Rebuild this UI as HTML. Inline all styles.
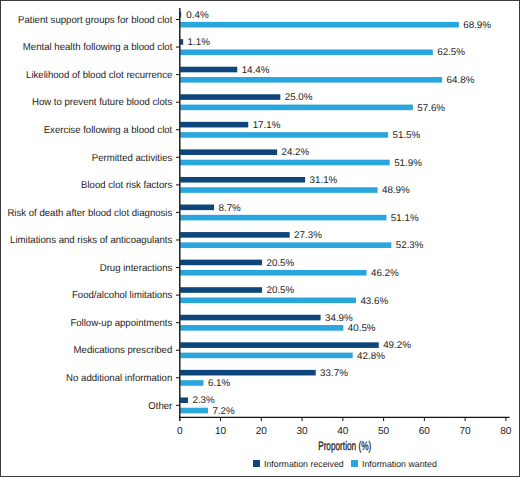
<!DOCTYPE html>
<html><head><meta charset="utf-8"><style>
html,body{margin:0;padding:0;background:#fff;}
svg{display:block;}
text{font-family:"Liberation Sans",sans-serif;fill:#222;text-rendering:geometricPrecision;}
.c{font-size:10px;text-anchor:end;}
.v{font-size:9.8px;}
.x{font-size:10.1px;text-anchor:middle;}
.t{font-size:12.4px;text-anchor:middle;stroke:#222;stroke-width:0.3px;}
.l{font-size:8.8px;}
</style></head><body>
<svg width="520" height="477" viewBox="0 0 520 477">
<rect x="0.5" y="0.5" width="519" height="476" fill="#fff" stroke="#3c3c3c" stroke-width="1"/>
<rect x="180.20" y="11.60" width="1.00" height="5.6" fill="#0e467c"/>
<rect x="180.20" y="21.90" width="278.65" height="5.6" fill="#2aa6de"/>
<text transform="translate(186.33 17.61) scale(1.0 1)" class="v">0.4%</text>
<text transform="translate(463.25 27.91) scale(1.0 1)" class="v">68.9%</text>
<text transform="translate(172.3 22.70) scale(0.96 1)" class="c">Patient support groups for blood clot</text>
<line x1="176" x2="180" y1="19.50" y2="19.50" stroke="#111" stroke-width="1"/>
<rect x="180.20" y="39.16" width="2.97" height="5.6" fill="#0e467c"/>
<rect x="180.20" y="49.46" width="252.62" height="5.6" fill="#2aa6de"/>
<text transform="translate(187.57 45.17) scale(1.0 1)" class="v">1.1%</text>
<text transform="translate(437.22 55.47) scale(1.0 1)" class="v">62.5%</text>
<text transform="translate(172.3 50.26) scale(0.96 1)" class="c">Mental health following a blood clot</text>
<line x1="176" x2="180" y1="47.06" y2="47.06" stroke="#111" stroke-width="1"/>
<rect x="180.20" y="66.72" width="57.05" height="5.6" fill="#0e467c"/>
<rect x="180.20" y="77.02" width="261.98" height="5.6" fill="#2aa6de"/>
<text transform="translate(241.65 72.73) scale(1.0 1)" class="v">14.4%</text>
<text transform="translate(446.58 83.03) scale(1.0 1)" class="v">64.8%</text>
<text transform="translate(172.3 77.82) scale(0.96 1)" class="c">Likelihood of blood clot recurrence</text>
<line x1="176" x2="180" y1="74.62" y2="74.62" stroke="#111" stroke-width="1"/>
<rect x="180.20" y="94.28" width="100.15" height="5.6" fill="#0e467c"/>
<rect x="180.20" y="104.58" width="232.70" height="5.6" fill="#2aa6de"/>
<text transform="translate(284.75 100.29) scale(1.0 1)" class="v">25.0%</text>
<text transform="translate(417.30 110.59) scale(1.0 1)" class="v">57.6%</text>
<text transform="translate(172.3 105.38) scale(0.96 1)" class="c">How to prevent future blood clots</text>
<line x1="176" x2="180" y1="102.18" y2="102.18" stroke="#111" stroke-width="1"/>
<rect x="180.20" y="121.84" width="68.03" height="5.6" fill="#0e467c"/>
<rect x="180.20" y="132.14" width="207.90" height="5.6" fill="#2aa6de"/>
<text transform="translate(252.63 127.85) scale(1.0 1)" class="v">17.1%</text>
<text transform="translate(392.50 138.15) scale(1.0 1)" class="v">51.5%</text>
<text transform="translate(172.3 132.94) scale(0.96 1)" class="c">Exercise following a blood clot</text>
<line x1="176" x2="180" y1="129.74" y2="129.74" stroke="#111" stroke-width="1"/>
<rect x="180.20" y="149.40" width="96.90" height="5.6" fill="#0e467c"/>
<rect x="180.20" y="159.70" width="209.53" height="5.6" fill="#2aa6de"/>
<text transform="translate(281.50 155.41) scale(1.0 1)" class="v">24.2%</text>
<text transform="translate(394.13 165.71) scale(1.0 1)" class="v">51.9%</text>
<text transform="translate(172.3 160.50) scale(0.96 1)" class="c">Permitted activities</text>
<line x1="176" x2="180" y1="157.30" y2="157.30" stroke="#111" stroke-width="1"/>
<rect x="180.20" y="176.96" width="124.95" height="5.6" fill="#0e467c"/>
<rect x="180.20" y="187.26" width="197.33" height="5.6" fill="#2aa6de"/>
<text transform="translate(309.55 182.97) scale(1.0 1)" class="v">31.1%</text>
<text transform="translate(381.93 193.27) scale(1.0 1)" class="v">48.9%</text>
<text transform="translate(172.3 188.06) scale(0.96 1)" class="c">Blood clot risk factors</text>
<line x1="176" x2="180" y1="184.86" y2="184.86" stroke="#111" stroke-width="1"/>
<rect x="180.20" y="204.52" width="33.87" height="5.6" fill="#0e467c"/>
<rect x="180.20" y="214.82" width="206.27" height="5.6" fill="#2aa6de"/>
<text transform="translate(218.47 210.53) scale(1.0 1)" class="v">8.7%</text>
<text transform="translate(390.87 220.83) scale(1.0 1)" class="v">51.1%</text>
<text transform="translate(172.3 215.62) scale(0.96 1)" class="c">Risk of death after blood clot diagnosis</text>
<line x1="176" x2="180" y1="212.42" y2="212.42" stroke="#111" stroke-width="1"/>
<rect x="180.20" y="232.08" width="109.50" height="5.6" fill="#0e467c"/>
<rect x="180.20" y="242.38" width="211.15" height="5.6" fill="#2aa6de"/>
<text transform="translate(294.10 238.09) scale(1.0 1)" class="v">27.3%</text>
<text transform="translate(395.75 248.39) scale(1.0 1)" class="v">52.3%</text>
<text transform="translate(172.3 243.18) scale(0.96 1)" class="c">Limitations and risks of anticoagulants</text>
<line x1="176" x2="180" y1="239.98" y2="239.98" stroke="#111" stroke-width="1"/>
<rect x="180.20" y="259.64" width="81.85" height="5.6" fill="#0e467c"/>
<rect x="180.20" y="269.94" width="186.35" height="5.6" fill="#2aa6de"/>
<text transform="translate(266.45 265.65) scale(1.0 1)" class="v">20.5%</text>
<text transform="translate(370.95 275.95) scale(1.0 1)" class="v">46.2%</text>
<text transform="translate(172.3 270.74) scale(0.96 1)" class="c">Drug interactions</text>
<line x1="176" x2="180" y1="267.54" y2="267.54" stroke="#111" stroke-width="1"/>
<rect x="180.20" y="287.20" width="81.85" height="5.6" fill="#0e467c"/>
<rect x="180.20" y="297.50" width="175.78" height="5.6" fill="#2aa6de"/>
<text transform="translate(266.45 293.21) scale(1.0 1)" class="v">20.5%</text>
<text transform="translate(360.38 303.51) scale(1.0 1)" class="v">43.6%</text>
<text transform="translate(172.3 298.30) scale(0.96 1)" class="c">Food/alcohol limitations</text>
<line x1="176" x2="180" y1="295.10" y2="295.10" stroke="#111" stroke-width="1"/>
<rect x="180.20" y="314.76" width="140.40" height="5.6" fill="#0e467c"/>
<rect x="180.20" y="325.06" width="163.17" height="5.6" fill="#2aa6de"/>
<text transform="translate(325.00 320.77) scale(1.0 1)" class="v">34.9%</text>
<text transform="translate(347.77 331.07) scale(1.0 1)" class="v">40.5%</text>
<text transform="translate(172.3 325.86) scale(0.96 1)" class="c">Follow-up appointments</text>
<line x1="176" x2="180" y1="322.66" y2="322.66" stroke="#111" stroke-width="1"/>
<rect x="180.20" y="342.32" width="198.55" height="5.6" fill="#0e467c"/>
<rect x="180.20" y="352.62" width="172.52" height="5.6" fill="#2aa6de"/>
<text transform="translate(383.15 348.33) scale(1.0 1)" class="v">49.2%</text>
<text transform="translate(357.12 358.63) scale(1.0 1)" class="v">42.8%</text>
<text transform="translate(172.3 353.42) scale(0.96 1)" class="c">Medications prescribed</text>
<line x1="176" x2="180" y1="350.22" y2="350.22" stroke="#111" stroke-width="1"/>
<rect x="180.20" y="369.88" width="135.52" height="5.6" fill="#0e467c"/>
<rect x="180.20" y="380.18" width="23.30" height="5.6" fill="#2aa6de"/>
<text transform="translate(320.12 375.89) scale(1.0 1)" class="v">33.7%</text>
<text transform="translate(207.90 386.19) scale(1.0 1)" class="v">6.1%</text>
<text transform="translate(172.3 380.98) scale(0.96 1)" class="c">No additional information</text>
<line x1="176" x2="180" y1="377.78" y2="377.78" stroke="#111" stroke-width="1"/>
<rect x="180.20" y="397.44" width="7.85" height="5.6" fill="#0e467c"/>
<rect x="180.20" y="407.74" width="27.78" height="5.6" fill="#2aa6de"/>
<text transform="translate(192.45 403.45) scale(1.0 1)" class="v">2.3%</text>
<text transform="translate(212.38 413.75) scale(1.0 1)" class="v">7.2%</text>
<text transform="translate(172.3 408.54) scale(0.96 1)" class="c">Other</text>
<line x1="176" x2="180" y1="405.34" y2="405.34" stroke="#111" stroke-width="1"/>
<line x1="179.80" x2="179.80" y1="8" y2="421" stroke="#111" stroke-width="1.4"/>
<line x1="179.2" x2="509.6" y1="417.3" y2="417.3" stroke="#111" stroke-width="1.2"/>
<text x="179.80" y="433.7" class="x">0</text>
<line x1="220.56" x2="220.56" y1="417" y2="421" stroke="#111" stroke-width="1"/>
<text x="220.56" y="433.7" class="x">10</text>
<line x1="261.32" x2="261.32" y1="417" y2="421" stroke="#111" stroke-width="1"/>
<text x="261.32" y="433.7" class="x">20</text>
<line x1="302.08" x2="302.08" y1="417" y2="421" stroke="#111" stroke-width="1"/>
<text x="302.08" y="433.7" class="x">30</text>
<line x1="342.84" x2="342.84" y1="417" y2="421" stroke="#111" stroke-width="1"/>
<text x="342.84" y="433.7" class="x">40</text>
<line x1="383.60" x2="383.60" y1="417" y2="421" stroke="#111" stroke-width="1"/>
<text x="383.60" y="433.7" class="x">50</text>
<line x1="424.36" x2="424.36" y1="417" y2="421" stroke="#111" stroke-width="1"/>
<text x="424.36" y="433.7" class="x">60</text>
<line x1="465.12" x2="465.12" y1="417" y2="421" stroke="#111" stroke-width="1"/>
<text x="465.12" y="433.7" class="x">70</text>
<line x1="505.88" x2="505.88" y1="417" y2="421" stroke="#111" stroke-width="1"/>
<text x="505.88" y="433.7" class="x">80</text>
<text x="344.7" y="449.9" class="t" transform="translate(344.7 0) scale(0.665 1) translate(-344.7 0)">Proportion (%)</text>
<rect x="253" y="460" width="7" height="7" fill="#0e467c"/>
<text x="264" y="466.5" class="l">Information received</text>
<rect x="351" y="460" width="7" height="7" fill="#2aa6de"/>
<text x="362" y="466.5" class="l">Information wanted</text>
</svg>
</body></html>
